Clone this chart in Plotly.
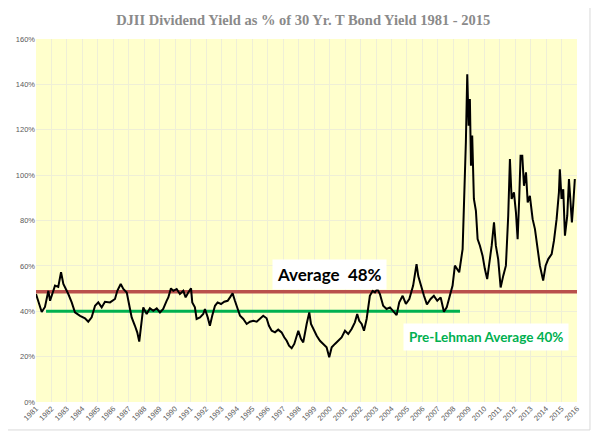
import plotly.graph_objects as go

# DJII dividend yield / 30 yr T bond yield (decimal year, %)
years = [
    1981.00, 1981.15, 1981.37, 1981.58, 1981.80, 1981.91, 1982.08, 1982.23, 1982.44, 1982.62,
    1982.77, 1982.94, 1983.09, 1983.31, 1983.52, 1983.85, 1984.17, 1984.38, 1984.60, 1984.82,
    1985.03, 1985.25, 1985.46, 1985.79, 1986.11, 1986.26, 1986.48, 1986.65, 1986.87, 1987.04,
    1987.19, 1987.40, 1987.55, 1987.68, 1987.84, 1987.94, 1988.16, 1988.37, 1988.59, 1988.81,
    1989.02, 1989.23, 1989.45, 1989.56, 1989.73, 1989.88, 1990.10, 1990.31, 1990.53, 1990.68,
    1990.85, 1991.03, 1991.11, 1991.28, 1991.39, 1991.61, 1991.82, 1991.93, 1992.11, 1992.25,
    1992.40, 1992.58, 1992.75, 1992.97, 1993.18, 1993.40, 1993.55, 1993.72, 1993.87, 1994.05,
    1994.20, 1994.41, 1994.63, 1994.84, 1995.06, 1995.28, 1995.49, 1995.70, 1995.92, 1996.07,
    1996.25, 1996.46, 1996.67, 1996.89, 1997.06, 1997.22, 1997.37, 1997.54, 1997.71, 1997.86,
    1997.97, 1998.14, 1998.29, 1998.51, 1998.68, 1998.79, 1998.94, 1999.16, 1999.37, 1999.58,
    1999.80, 1999.97, 2000.13, 2000.34, 2000.55, 2000.77, 2000.99, 2001.20, 2001.42, 2001.63,
    2001.78, 2001.91, 2002.07, 2002.22, 2002.39, 2002.49, 2002.60, 2002.78, 2002.93, 2003.08,
    2003.25, 2003.46, 2003.68, 2003.90, 2004.11, 2004.33, 2004.50, 2004.72, 2004.93, 2005.15,
    2005.40, 2005.62, 2005.73, 2005.95, 2006.10, 2006.29, 2006.53, 2006.74, 2006.96, 2007.18,
    2007.39, 2007.57, 2007.78, 2007.95, 2008.10, 2008.21, 2008.38, 2008.60, 2008.75, 2008.81,
    2008.90, 2008.99, 2009.07, 2009.14, 2009.22, 2009.33, 2009.46, 2009.57, 2009.72, 2009.89,
    2010.04, 2010.19, 2010.32, 2010.48, 2010.63, 2010.75, 2010.90, 2011.06, 2011.23, 2011.40,
    2011.55, 2011.66, 2011.77, 2011.92, 2012.05, 2012.16, 2012.26, 2012.35, 2012.46, 2012.57,
    2012.70, 2012.81, 2012.95, 2013.13, 2013.28, 2013.43, 2013.60, 2013.81, 2013.97, 2014.14,
    2014.36, 2014.51, 2014.68, 2014.83, 2014.89, 2015.00, 2015.11, 2015.22, 2015.37, 2015.48,
    2015.56, 2015.67, 2015.75, 2015.86,
]
ratio = [
    47.6, 43.9, 39.7, 41.9, 49.0, 44.6, 48.5, 51.3, 50.7, 57.2,
    52.0, 49.8, 47.6, 43.9, 39.5, 38.0, 36.9, 35.4, 37.3, 42.4,
    43.9, 41.7, 44.2, 43.9, 45.4, 49.0, 52.0, 49.8, 48.3, 42.4,
    37.3, 33.6, 30.7, 26.6, 37.3, 41.7, 38.8, 41.3, 40.2, 41.3,
    39.5, 41.0, 44.6, 46.1, 50.1, 49.0, 49.8, 47.6, 49.0, 46.1,
    48.3, 50.1, 43.9, 41.7, 36.6, 37.3, 38.8, 41.0, 37.3, 33.6,
    38.0, 42.4, 43.9, 43.2, 44.2, 44.6, 46.1, 47.9, 44.6, 41.0,
    38.0, 36.6, 34.4, 35.4, 35.8, 35.4, 36.6, 38.0, 36.9, 33.6,
    31.4, 30.7, 31.9, 30.7, 28.5, 27.0, 24.8, 23.7, 25.6, 28.5,
    31.4, 27.8, 26.3, 34.4, 39.5, 34.4, 32.2, 29.2, 27.0, 25.6,
    24.1, 19.7, 24.1, 25.6, 27.0, 28.5, 31.4, 30.0, 32.2, 35.1,
    38.8, 35.8, 34.4, 31.4, 36.6, 41.0, 46.8, 49.0, 48.3, 49.8,
    47.6, 42.4, 41.0, 41.7, 40.2, 38.3, 43.9, 46.8, 43.2, 45.4,
    51.3, 60.8, 55.5, 50.0, 46.8, 43.0, 45.4, 46.8, 44.6, 46.1,
    39.8, 41.7, 46.8, 51.3, 60.1, 59.0, 57.2, 67.4, 95.3, 114.4,
    144.5, 121.8, 133.5, 104.1, 117.4, 89.5, 84.3, 71.8, 68.9, 64.5,
    58.6, 54.2, 60.8, 68.9, 79.2, 68.9, 63.0, 50.5, 55.7, 60.1,
    82.1, 107.1, 89.5, 92.4, 83.6, 71.8, 89.5, 108.5, 108.5, 95.3,
    101.2, 88.0, 90.9, 80.6, 76.2, 67.4, 60.1, 53.5, 60.1, 63.0,
    65.2, 71.1, 80.6, 92.4, 102.6, 89.5, 93.8, 73.3, 82.1, 98.3,
    89.5, 79.2, 86.5, 98.3,
]

avg_all = 48.6
avg_all_span = [1981.0, 2016.0]
avg_pre_lehman = 40.0
avg_pre_lehman_span = [1981.65, 2008.43]

year_ticks = list(range(1981, 2017))
pct_ticks = list(range(0, 161, 20))

fig = go.Figure()

fig.add_trace(go.Scatter(
    x=avg_all_span, y=[avg_all] * 2, mode="lines",
    line=dict(color="#b9504c", width=3.5), hoverinfo="skip", name="Average"
))
fig.add_trace(go.Scatter(
    x=avg_pre_lehman_span, y=[avg_pre_lehman] * 2, mode="lines",
    line=dict(color="#00b050", width=3), hoverinfo="skip", name="Pre-Lehman Average"
))
fig.add_trace(go.Scatter(
    x=years, y=ratio, mode="lines",
    line=dict(color="black", width=2), name="Div Yield / 30 Yr"
))

fig.add_annotation(
    x=2000.0, y=56, xref="x", yref="y", text="<b>Average  48%</b>", showarrow=False,
    font=dict(family="Lato", size=17, color="black"),
    bgcolor="white", borderpad=4,
)
fig.add_annotation(
    x=2010.1, y=28.6, xref="x", yref="y", text="<b>Pre-Lehman Average 40%</b>", showarrow=False,
    font=dict(family="Lato", size=13.5, color="#00b050"),
    bgcolor="white", borderpad=5,
)

# light grey frame round the whole chart
fig.add_shape(
    type="rect", xref="paper", yref="paper",
    x0=-0.057, x1=1.024, y0=-0.077, y1=1.091,
    line=dict(color="#d9d9d9", width=1), layer="below",
)

# the page body adds 8px on the left and top, so margins are shifted by that
fig.update_layout(
    width=600, height=438,
    margin=dict(l=28, r=31, t=31, b=44, autoexpand=False),
    paper_bgcolor="white",
    plot_bgcolor="#ffffcc",
    showlegend=False,
    title=dict(
        text="<b>DJII Dividend Yield as % of 30 Yr. T Bond Yield 1981 - 2015</b>",
        x=0.492, y=0.973, xanchor="center", yanchor="middle",
        font=dict(family="Liberation Serif", size=14.5, color="#8a8a8a"),
    ),
    xaxis=dict(
        range=[1981, 2016], tickmode="array", tickvals=year_ticks,
        ticktext=[str(y) for y in year_ticks], tickangle=-45,
        showgrid=True, gridcolor="#efefd6", gridwidth=1, zeroline=False,
        tickfont=dict(family="Liberation Sans", size=7.5, color="#595959"),
        showline=False, ticks="", automargin=False,
    ),
    yaxis=dict(
        range=[0, 160], tickmode="array", tickvals=pct_ticks,
        ticktext=[f"{p}%" for p in pct_ticks],
        showgrid=True, gridcolor="#efefd6", gridwidth=1, zeroline=False,
        tickfont=dict(family="Liberation Sans", size=7.5, color="#595959"),
        showline=False, ticks="", automargin=False,
    ),
)

fig.write_html("out.html")
